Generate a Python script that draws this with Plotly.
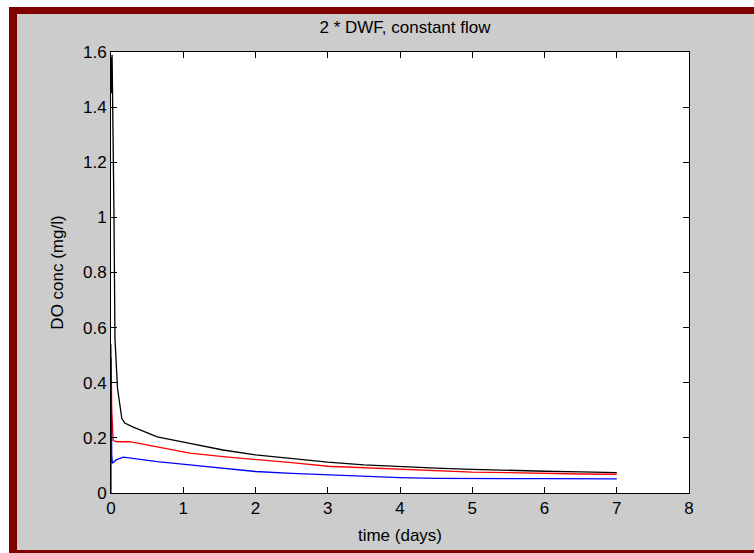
import plotly.graph_objects as go

# ---- data ----
t_black = [0, 0.01, 0.015, 0.025, 0.04, 0.055, 0.09, 0.15, 0.19, 0.3, 0.64, 1.09, 1.55, 2.0, 2.5, 3.0, 3.5, 4.0, 4.5, 5.0, 5.5, 6.0, 6.5, 7.0]
do_black = [1.58, 1.45, 1.59, 1.40, 1.04, 0.56, 0.38, 0.27, 0.254, 0.24, 0.204, 0.18, 0.156, 0.138, 0.124, 0.112, 0.102, 0.095, 0.09, 0.086, 0.082, 0.079, 0.077, 0.074]

t_red = [0, 0.01, 0.03, 0.08, 0.26, 0.64, 1.09, 1.55, 2.0, 2.5, 3.0, 3.5, 4.0, 4.5, 5.0, 5.5, 6.0, 6.5, 7.0]
do_red = [0.54, 0.30, 0.19, 0.186, 0.186, 0.168, 0.145, 0.132, 0.122, 0.110, 0.097, 0.092, 0.086, 0.081, 0.076, 0.074, 0.071, 0.069, 0.068]

t_blue = [0, 0.001, 0.005, 0.01, 0.02, 0.07, 0.17, 0.64, 1.09, 1.55, 2.0, 2.5, 3.0, 3.5, 4.0, 4.5, 5.0, 6.0, 7.0]
do_blue = [0, 0.49, 0.30, 0.138, 0.108, 0.12, 0.13, 0.114, 0.102, 0.09, 0.078, 0.071, 0.066, 0.059, 0.056, 0.053, 0.052, 0.052, 0.051]

x_ticks = [0, 1, 2, 3, 4, 5, 6, 7, 8]
y_ticks = [0, 0.2, 0.4, 0.6, 0.8, 1, 1.2, 1.4, 1.6]

title_text = "2 * DWF, constant flow"
x_title = "time (days)"
y_title = "DO conc (mg/l)"

# ---- layout geometry ----
W, H = 754, 553
L, R, T, B = 111, 754 - 689, 52, 553 - 493
pw, ph = W - L - R, H - T - B

def px(x):
    return (x - L) / pw

def py(y):
    return (H - B - y) / ph

FONT = "Liberation Sans, Arial, sans-serif"

fig = go.Figure()
for t, v, c in [(t_black, do_black, "black"), (t_red, do_red, "#ff0000"), (t_blue, do_blue, "#0000ff")]:
    fig.add_trace(go.Scatter(x=t, y=v, mode="lines", line=dict(color=c, width=1.3), showlegend=False, hoverinfo="skip"))

shapes = []
def rect(x0, y0, x1, y1, color):
    shapes.append(dict(type="rect", xref="paper", yref="paper", x0=px(x0), x1=px(x1), y0=py(y1), y1=py(y0),
                       fillcolor=color, line=dict(width=0), layer="below"))

rect(0, 0, W + 5, 7, "white")
rect(0, 0, 9, H + 5, "white")
rect(9, 7, W + 5, 14, "#800000")
rect(9, 7, 17, H + 5, "#800000")
rect(9, 550, W + 5, H + 5, "#800000")

axis_common = dict(showline=True, linecolor="black", linewidth=1, mirror="ticks", ticks="inside",
                   ticklen=6, tickcolor="black", tickwidth=1, showgrid=False, zeroline=False,
                   tickfont=dict(family=FONT, size=17, color="black"))

fig.update_layout(
    width=W, height=H,
    margin=dict(l=L, r=R, t=T, b=B, pad=0),
    paper_bgcolor="#cccccc", plot_bgcolor="white",
    shapes=shapes,
    title=dict(text=title_text, x=px(405), xref="paper", xanchor="center", y=1 - 27 / H, yref="container",
               yanchor="middle", font=dict(family=FONT, size=17, color="black")),
    xaxis=dict(range=[0, 8], tickvals=x_ticks, ticktext=[str(v) for v in x_ticks],
               title=dict(text=x_title, font=dict(family=FONT, size=17, color="black"), standoff=11),
               **axis_common),
    yaxis=dict(range=[0, 1.6], tickvals=y_ticks, ticktext=[f"{v:g}" for v in y_ticks],
               title=dict(text=y_title, font=dict(family=FONT, size=17, color="black"), standoff=15),
               **axis_common),
)

fig.write_html("out.html")
